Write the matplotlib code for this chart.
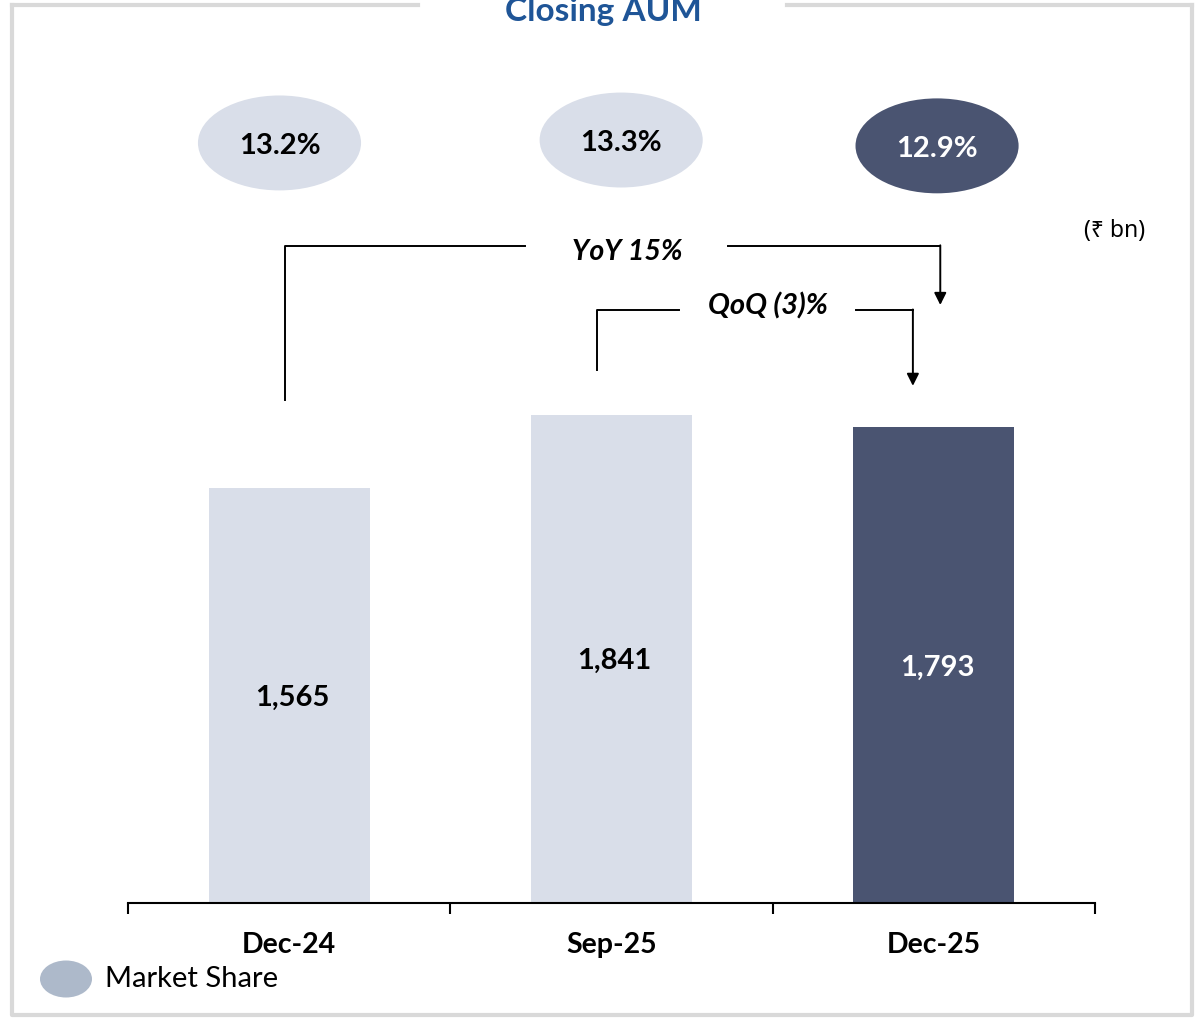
import matplotlib
matplotlib.use("Agg")
import matplotlib.pyplot as plt
from matplotlib.patches import Ellipse

plt.rcParams['font.family'] = ['Lato', 'DejaVu Sans']

# data
periods = ['Dec-24', 'Sep-25', 'Dec-25']
aum = [1565, 1841, 1793]
market_share = [13.2, 13.3, 12.9]
yoy_label = 'YoY 15%'
qoq_label = 'QoQ (3)%'

light = '#D9DEE9'
dark = '#4A5471'
bar_colors = [light, light, dark]
text_colors = ['black', 'black', 'white']

fig = plt.figure(figsize=(12.03, 10.19), dpi=100)

# main axes: bottom at baseline (y=903px), top at figure top
ax = fig.add_axes([128 / 1203, 1 - 903 / 1019, (1095 - 128) / 1203, 903 / 1019])
ax.set_xlim(-0.5, 2.5)
ax.set_ylim(0, 3405)

x = list(range(len(periods)))
ax.bar(x, aum, width=0.5, color=bar_colors, zorder=2)
# value labels roughly in middle of bars
for i, v in enumerate(aum):
    ax.text(i + 0.01, v * 0.495, f'{v:,}', ha='center', va='center',
            fontsize=21, fontweight='bold', color=text_colors[i])

# market share bubbles
ell_dx = [-0.03, 0.03, 0.01]
ell_y = [2866, 2877, 2855]
for i, ms in enumerate(market_share):
    e = Ellipse((i + ell_dx[i], ell_y[i]), width=0.506, height=358,
                facecolor=bar_colors[i], edgecolor='none', zorder=2)
    ax.add_patch(e)
    ax.text(i + ell_dx[i], ell_y[i] - 10, f'{ms:.1f}%', ha='center', va='center',
            fontsize=21, fontweight='bold', color=text_colors[i], zorder=3)

# YoY bracket
lw = 1.4
ax.plot([-0.012, -0.012, 0.732], [1897, 2478, 2478], color='black', lw=lw)
ax.plot([1.36, 2.02], [2478, 2478], color='black', lw=lw)
ax.annotate('', xy=(2.02, 2255), xytext=(2.02, 2480),
            arrowprops=dict(arrowstyle='-|>', color='black', lw=lw, mutation_scale=18,
                            shrinkA=0, shrinkB=0))
ax.text(1.048, 2455, yoy_label, ha='center', va='center', fontsize=20.5,
        fontweight='bold', style='italic')

# QoQ bracket
ax.plot([0.955, 0.955, 1.21], [2010, 2236, 2236], color='black', lw=lw)
ax.plot([1.76, 1.935], [2236, 2236], color='black', lw=lw)
ax.annotate('', xy=(1.935, 1950), xytext=(1.935, 2238),
            arrowprops=dict(arrowstyle='-|>', color='black', lw=lw, mutation_scale=18,
                            shrinkA=0, shrinkB=0))
ax.text(1.486, 2251, qoq_label, ha='center', va='center', fontsize=21,
        fontweight='bold', style='italic')

# axis styling
for s in ['top', 'right', 'left']:
    ax.spines[s].set_visible(False)
ax.spines['bottom'].set_linewidth(1.5)
ax.set_yticks([])
ax.set_xticks(x)
ax.set_xticklabels(periods, fontsize=20.5, fontweight='bold')
ax.tick_params(axis='x', which='major', length=0, pad=21)
ax.set_xticks([-0.5, 0.5, 1.5, 2.5], minor=True)
ax.tick_params(axis='x', which='minor', length=8, width=1.5, direction='out')
ax.patch.set_alpha(0)

# overlay in pixel coords for frame, title, legend, unit
ov = fig.add_axes([0, 0, 1, 1], zorder=-1)
ov.set_xlim(0, 1203)
ov.set_ylim(1019, 0)
ov.axis('off')
frame = '#D9D9D9'
ov.plot([12, 12, 1192, 1192], [5, 1015, 1015, 5], color=frame, lw=3)
ov.plot([12, 418], [5, 5], color=frame, lw=3)
ov.plot([787, 1192], [5, 5], color=frame, lw=3)
fig.text(603 / 1203, 1 - 11 / 1019, 'Closing AUM', ha='center', va='center',
         fontsize=24, fontweight='bold', color='#1F5597')
fig.text(1145 / 1203, 1 - 231 / 1019, '(₹ bn)', ha='right', va='center',
         fontsize=16.5, family=['Noto Sans', 'DejaVu Sans'])
ov.add_patch(Ellipse((66, 979), 52, 37, facecolor='#ADB9CA', edgecolor='none'))
fig.text(105 / 1203, 1 - 979 / 1019, 'Market Share', ha='left', va='center', fontsize=21)

fig.savefig('out.png', dpi=100)
